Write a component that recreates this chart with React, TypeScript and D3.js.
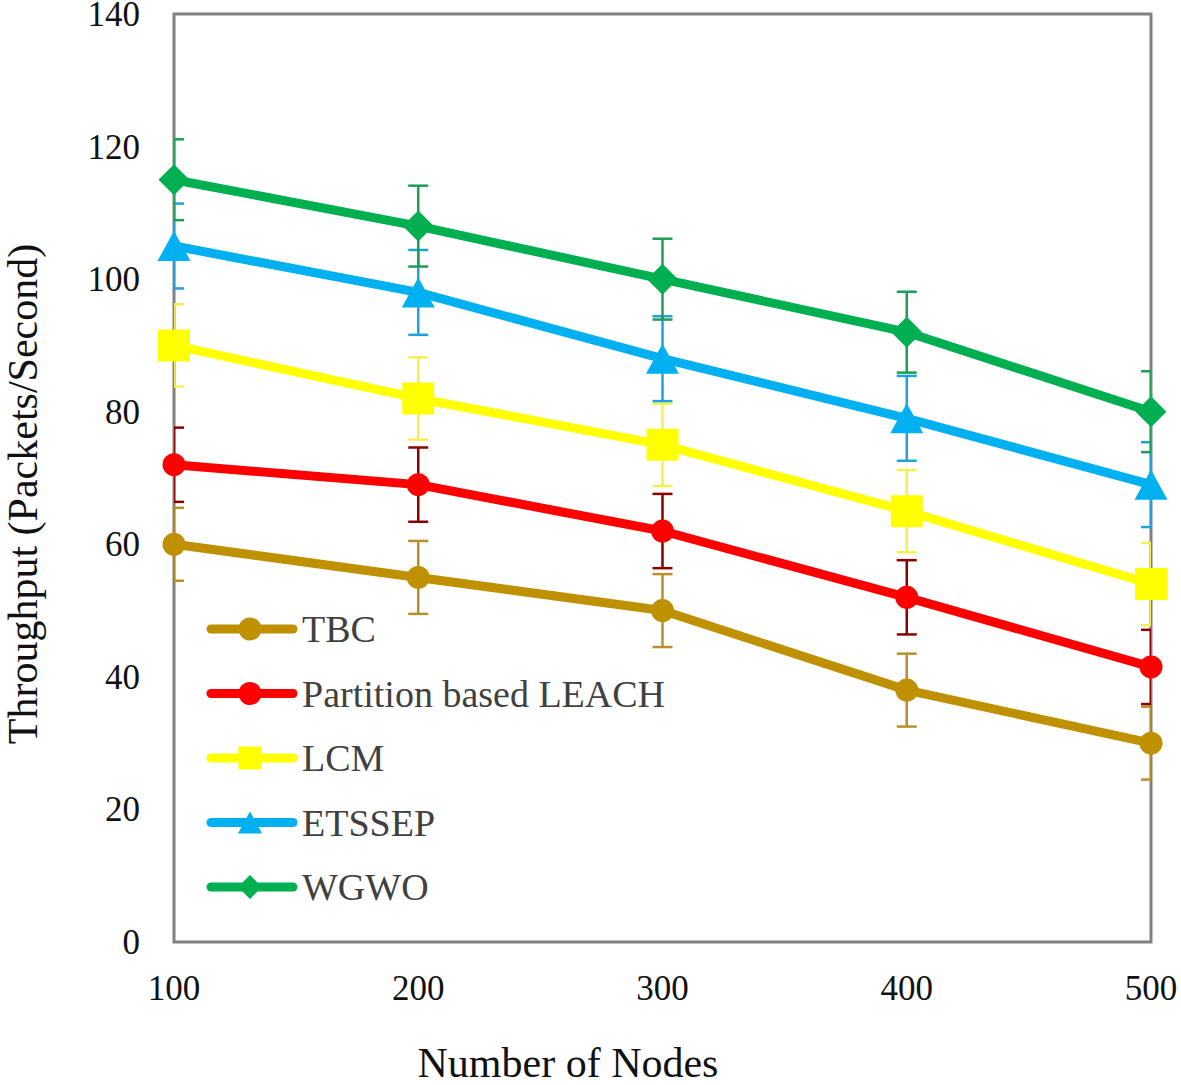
import React from "react";
import * as d3 from "d3";

const nodes = [100, 200, 300, 400, 500];
const seriesNames = ["TBC", "Partition based LEACH", "LCM", "ETSSEP", "WGWO"];
const tbc = [60, 55, 50, 38, 30];
const leach = [72, 69, 62, 52, 41.5];
const lcm = [90, 82, 75, 65, 54];
const etssep = [105, 98, 88, 79, 69];
const wgwo = [115, 108, 100, 92, 80];
const errors = [5.5, 5.6, 6.2, 6.4, 6.1];
const yTicks = [0, 20, 40, 60, 80, 100, 120, 140];
const xTicks = [100, 200, 300, 400, 500];

const colors = ["#BF9000", "#FF0000", "#FFFF00", "#00B0F0", "#00B050"];
const errColors = ["#B8902A", "#8B0000", "#F5F050", "#1FA3DD", "#1E9E55"];
const shapes = ["circle", "circle", "square", "triangle", "diamond"];
const values = [tbc, leach, lcm, etssep, wgwo];

const W = 1181;
const H = 1085;
const L = 174, R = 1151, T = 14, B = 942;
const FONT = "'Liberation Serif', 'Times New Roman', serif";

function markerPath(shape: string, cx: number, cy: number, s: number): string {
  const p = d3.path();
  if (shape === "circle") {
    p.moveTo(cx + s / 2, cy);
    p.arc(cx, cy, s / 2, 0, Math.PI * 2);
  } else if (shape === "square") {
    p.rect(cx - s / 2, cy - s / 2, s, s);
  } else if (shape === "triangle") {
    const w = s * 1.1, h = s;
    p.moveTo(cx, cy - h / 2);
    p.lineTo(cx + w / 2, cy + h / 2);
    p.lineTo(cx - w / 2, cy + h / 2);
  } else {
    p.moveTo(cx, cy - s / 2);
    p.lineTo(cx + s / 2, cy);
    p.lineTo(cx, cy + s / 2);
    p.lineTo(cx - s / 2, cy);
  }
  p.closePath();
  return p.toString();
}

const markerSize: Record<string, number> = { circle: 23, square: 32, triangle: 30, diamond: 31 };
const legendMarkerSize: Record<string, number> = { circle: 23, square: 23, triangle: 22, diamond: 24 };

export default function App() {
  const x = d3.scaleLinear().domain([100, 500]).range([L, R]);
  const y = d3.scaleLinear().domain([0, 140]).range([B, T]);
  const line = d3
    .line<number>()
    .x((_, i) => x(nodes[i]))
    .y((d) => y(d));

  const legendY = d3.scaleLinear().domain([0, 4]).range([629, 887]);

  return (
    <svg
      width={W}
      height={H}
      style={{ position: "absolute", left: 0, top: 0, background: "#fff" }}
      fontFamily={FONT}
    >
      <defs>
        <clipPath id="plotClip">
          <rect x={L} y={T} width={R - L} height={B - T} />
        </clipPath>
      </defs>
      <rect x={0} y={0} width={W} height={H} fill="#fff" />
      <rect x={L} y={T} width={R - L} height={B - T} fill="none" stroke="#808080" strokeWidth={3} />

      {yTicks.map((t) => (
        <text key={"y" + t} x={140} y={y(t) + 12} fontSize={35} textAnchor="end" fill="#111">
          {t}
        </text>
      ))}
      {xTicks.map((t) => (
        <text key={"x" + t} x={x(t)} y={1000} fontSize={35} textAnchor="middle" fill="#111">
          {t}
        </text>
      ))}

      <text x={568} y={1077} fontSize={42} textAnchor="middle" fill="#111">
        Number of Nodes
      </text>
      <text
        transform={`translate(37, ${494}) rotate(-90)`}
        fontSize={42}
        textAnchor="middle"
        fill="#111"
      >
        Throughput (Packets/Second)
      </text>

      {values.map((vals, si) => (
        <g key={"s" + si}>
          <g clipPath="url(#plotClip)">
            {vals.map((v, i) => (
              <g key={i} stroke={errColors[si]} strokeWidth={2.5}>
                <line x1={x(nodes[i])} x2={x(nodes[i])} y1={y(v - errors[si])} y2={y(v + errors[si])} />
                <line x1={x(nodes[i]) - 10} x2={x(nodes[i]) + 10} y1={y(v - errors[si])} y2={y(v - errors[si])} />
                <line x1={x(nodes[i]) - 10} x2={x(nodes[i]) + 10} y1={y(v + errors[si])} y2={y(v + errors[si])} />
              </g>
            ))}
          </g>
          <path d={line(vals) || ""} fill="none" stroke={colors[si]} strokeWidth={9} strokeLinejoin="round" />
          {vals.map((v, i) => (
            <path
              key={"m" + i}
              d={markerPath(shapes[si], x(nodes[i]), y(v), markerSize[shapes[si]])}
              fill={colors[si]}
            />
          ))}
        </g>
      ))}

      {seriesNames.map((name, si) => {
        const ly = legendY(si);
        return (
          <g key={"l" + si}>
            <line x1={211} x2={293} y1={ly} y2={ly} stroke={colors[si]} strokeWidth={9} strokeLinecap="round" />
            <path d={markerPath(shapes[si], 250, ly, legendMarkerSize[shapes[si]])} fill={colors[si]} />
            <text x={302} y={ly + 13} fontSize={38} fill="#404040">
              {name}
            </text>
          </g>
        );
      })}
    </svg>
  );
}
